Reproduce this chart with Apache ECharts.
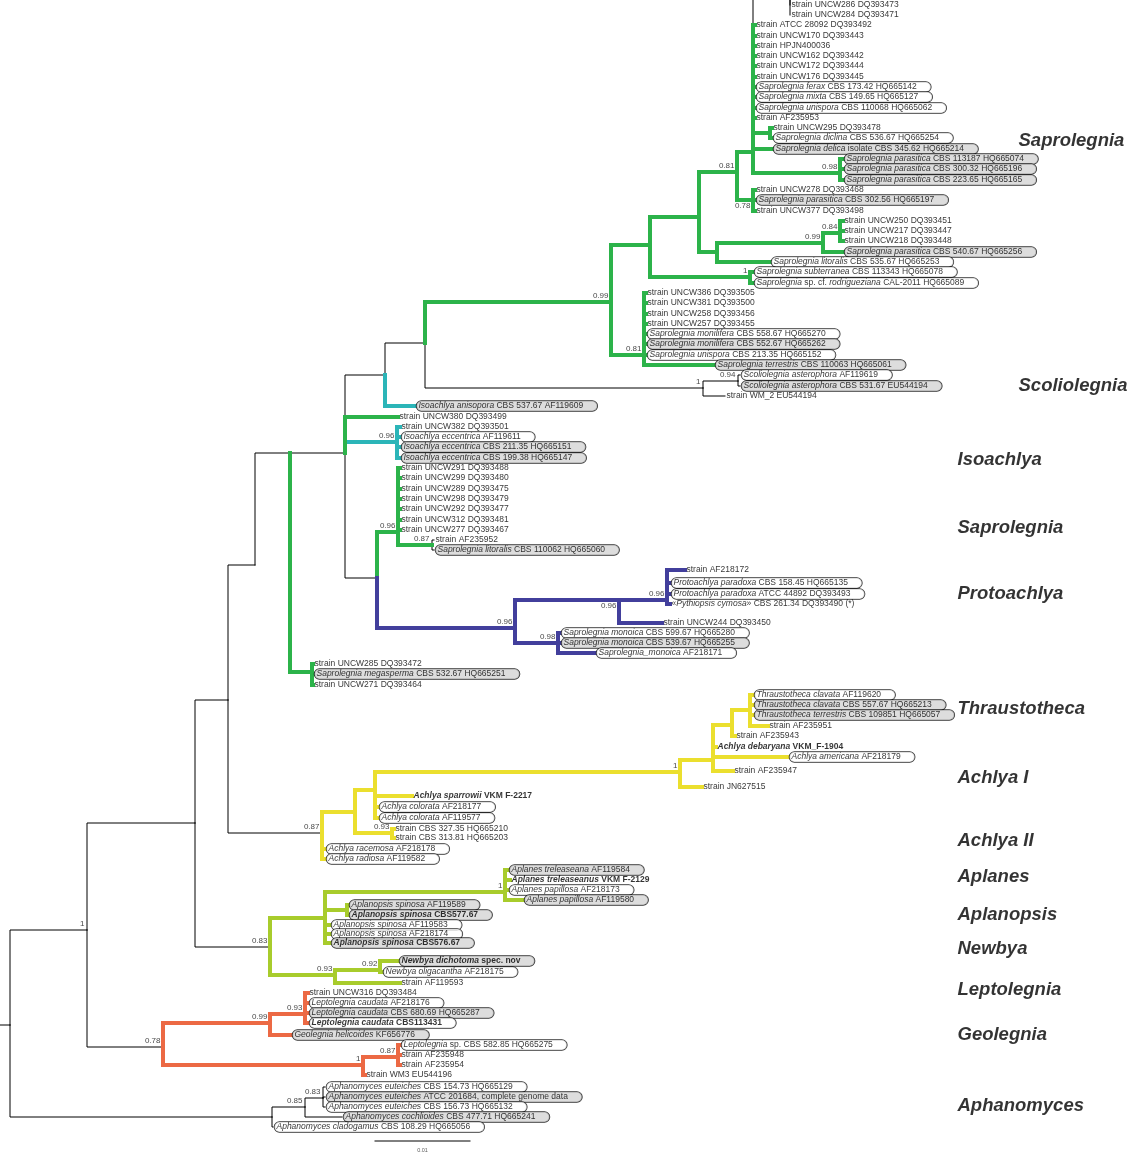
<!DOCTYPE html>
<html>
<head>
<meta charset="utf-8">
<script src="https://cdn.jsdelivr.net/npm/echarts@6/dist/echarts.min.js"></script>
<style>
  html, body { margin: 0; padding: 0; background: #fff; }
  #tree { width: 1130px; height: 1153px; }
</style>
</head>
<body>
<div id="tree"></div>
<script>
// clade colours
const cladeColors = { k: '#000000', g: '#2cb34a', c: '#2bb5b8', p: '#423f9c', y: '#ebdf2e', l: '#a8cc2c', o: '#ec6944' }

// internal nodes: id, parent, depth, row, clade
const nodes = [
  ['base', null, 0, 1025, 'k'],
  ['root', 'base', 10, 1025, 'k'],
  ['A', 'root', 87, 930, 'k'],
  ['B', 'A', 195, 823, 'k'],
  ['C', 'B', 228, 700, 'k'],
  ['D', 'C', 255, 565, 'k'],
  ['E', 'D', 290, 453, 'k'],
  ['H', 'E', 345, 453, 'k'],
  ['G', 'H', 385, 375, 'k'],
  ['F', 'G', 425, 343, 'k'],
  ['n1', 'F', 611, 302, 'g'],
  ['n2', 'n1', 650, 245, 'g'],
  ['n3', 'n2', 699, 217, 'g'],
  ['n4', 'n3', 737, 172, 'g'],
  ['n5', 'n4', 753, 152, 'g'],
  ['n6', 'n5', 790, -8, 'k'],
  ['n7', 'n5', 770, 133, 'g'],
  ['n8', 'n5', 840, 173, 'g'],
  ['n9', 'n4', 753, 200, 'g'],
  ['n10', 'n3', 717, 252, 'g'],
  ['n11', 'n10', 823, 243, 'g'],
  ['n12', 'n11', 840, 233, 'g'],
  ['n13', 'n2', 750, 277, 'g'],
  ['n14', 'n1', 644, 355, 'g'],
  ['n15', 'F', 703, 388, 'k'],
  ['n16', 'n15', 738, 381, 'k'],
  ['n17', 'H', 397, 442, 'c'],
  ['n18', 'H', 377, 578, 'k'],
  ['n19', 'n18', 398, 532, 'g'],
  ['n20', 'n19', 432, 545, 'g'],
  ['n21', 'n18', 515, 628, 'p'],
  ['n22', 'n21', 619, 600, 'p'],
  ['n23', 'n22', 667, 600, 'p'],
  ['n24', 'n21', 558, 643, 'p'],
  ['n25', 'E', 312, 672, 'g'],
  ['n26', 'C', 322, 833, 'k'],
  ['n27', 'n26', 355, 812, 'y'],
  ['n28', 'n27', 375, 790, 'y'],
  ['n29', 'n28', 680, 772, 'y'],
  ['n30', 'n29', 713, 760, 'y'],
  ['n31', 'n30', 732, 725, 'y'],
  ['n32', 'n31', 750, 710, 'y'],
  ['n33', 'n27', 392, 833, 'y'],
  ['n34', 'B', 270, 947, 'k'],
  ['n35', 'n34', 325, 918, 'l'],
  ['n36', 'n35', 505, 892, 'l'],
  ['n37', 'n35', 347, 910, 'l'],
  ['n38', 'n34', 335, 975, 'l'],
  ['n39', 'n38', 380, 970, 'l'],
  ['n40', 'A', 163, 1047, 'k'],
  ['n41', 'n40', 270, 1023, 'o'],
  ['n42', 'n41', 305, 1014, 'o'],
  ['n43', 'n40', 363, 1065, 'o'],
  ['n44', 'n43', 398, 1057, 'o'],
  ['n45', 'root', 272, 1117, 'k'],
  ['n46', 'n45', 305, 1107, 'k'],
  ['n47', 'n46', 323, 1098, 'k']
]

// leaves: parent, depth, row, clade, label style (s plain, b bold, p pill, g grey pill, bp / bg bold pill), text (~italic~)
const leaves = [
  ['n6', 790, 5, 'k', 's', 'strain UNCW286 DQ393473'],
  ['n6', 790, 15, 'k', 's', 'strain UNCW284 DQ393471'],
  ['n5', 755, 25, 'g', 's', 'strain ATCC 28092 DQ393492'],
  ['n5', 755, 36, 'g', 's', 'strain UNCW170 DQ393443'],
  ['n5', 755, 46, 'g', 's', 'strain HPJN400036'],
  ['n5', 755, 56, 'g', 's', 'strain UNCW162 DQ393442'],
  ['n5', 755, 66, 'g', 's', 'strain UNCW172 DQ393444'],
  ['n5', 755, 77, 'g', 's', 'strain UNCW176 DQ393445'],
  ['n5', 755, 87, 'g', 'p', '~Saprolegnia ferax~ CBS 173.42 HQ665142'],
  ['n5', 755, 97, 'g', 'p', '~Saprolegnia mixta~ CBS 149.65 HQ665127'],
  ['n5', 755, 108, 'g', 'p', '~Saprolegnia unispora~ CBS 110068 HQ665062'],
  ['n5', 755, 118, 'g', 's', 'strain AF235953'],
  ['n7', 772, 128, 'g', 's', 'strain UNCW295 DQ393478'],
  ['n7', 772, 138, 'g', 'p', '~Saprolegnia diclina~ CBS 536.67 HQ665254'],
  ['n5', 772, 149, 'g', 'g', '~Saprolegnia delica~ isolate CBS 345.62 HQ665214'],
  ['n8', 843, 159, 'g', 'g', '~Saprolegnia parasitica~ CBS 113187 HQ665074'],
  ['n8', 843, 169, 'g', 'g', '~Saprolegnia parasitica~ CBS 300.32 HQ665196'],
  ['n8', 843, 180, 'g', 'g', '~Saprolegnia parasitica~ CBS 223.65 HQ665165'],
  ['n9', 755, 190, 'g', 's', 'strain UNCW278 DQ393468'],
  ['n9', 755, 200, 'g', 'g', '~Saprolegnia parasitica~ CBS 302.56 HQ665197'],
  ['n9', 755, 211, 'g', 's', 'strain UNCW377 DQ393498'],
  ['n12', 843, 221, 'g', 's', 'strain UNCW250 DQ393451'],
  ['n12', 843, 231, 'g', 's', 'strain UNCW217 DQ393447'],
  ['n12', 843, 241, 'g', 's', 'strain UNCW218 DQ393448'],
  ['n11', 843, 252, 'g', 'g', '~Saprolegnia parasitica~ CBS 540.67 HQ665256'],
  ['n10', 770, 262, 'g', 'p', '~Saprolegnia litoralis~ CBS 535.67 HQ665253'],
  ['n13', 753, 272, 'g', 'p', '~Saprolegnia subterranea~ CBS 113343 HQ665078'],
  ['n13', 753, 283, 'g', 'p', '~Saprolegnia~ sp. cf. ~rodrigueziana~ CAL-2011 HQ665089'],
  ['n14', 646, 293, 'g', 's', 'strain UNCW386 DQ393505'],
  ['n14', 646, 303, 'g', 's', 'strain UNCW381 DQ393500'],
  ['n14', 646, 314, 'g', 's', 'strain UNCW258 DQ393456'],
  ['n14', 646, 324, 'g', 's', 'strain UNCW257 DQ393455'],
  ['n14', 646, 334, 'g', 'p', '~Saprolegnia monilifera~ CBS 558.67 HQ665270'],
  ['n14', 646, 344, 'g', 'g', '~Saprolegnia monilifera~ CBS 552.67 HQ665262'],
  ['n14', 646, 355, 'g', 'p', '~Saprolegnia unispora~ CBS 213.35 HQ665152'],
  ['n14', 714, 365, 'g', 'g', '~Saprolegnia terrestris~ CBS 110063 HQ665061'],
  ['n16', 740, 375, 'k', 'p', '~Scoliolegnia asterophora~ AF119619'],
  ['n16', 740, 386, 'k', 'g', '~Scoliolegnia asterophora~ CBS 531.67 EU544194'],
  ['n15', 725, 396, 'k', 's', 'strain WM_2 EU544194'],
  ['G', 415, 406, 'c', 'g', '~Isoachlya anisopora~ CBS 537.67 AF119609'],
  ['H', 398, 417, 'g', 's', 'strain UNCW380 DQ393499'],
  ['n17', 400, 427, 'c', 's', 'strain UNCW382 DQ393501'],
  ['n17', 400, 437, 'c', 'p', '~Isoachlya eccentrica~ AF119611'],
  ['n17', 400, 447, 'c', 'g', '~Isoachlya eccentrica~ CBS 211.35 HQ665151'],
  ['n17', 400, 458, 'c', 'g', '~Isoachlya eccentrica~ CBS 199.38 HQ665147'],
  ['n19', 400, 468, 'g', 's', 'strain UNCW291 DQ393488'],
  ['n19', 400, 478, 'g', 's', 'strain UNCW299 DQ393480'],
  ['n19', 400, 489, 'g', 's', 'strain UNCW289 DQ393475'],
  ['n19', 400, 499, 'g', 's', 'strain UNCW298 DQ393479'],
  ['n19', 400, 509, 'g', 's', 'strain UNCW292 DQ393477'],
  ['n19', 400, 520, 'g', 's', 'strain UNCW312 DQ393481'],
  ['n19', 400, 530, 'g', 's', 'strain UNCW277 DQ393467'],
  ['n20', 434, 540, 'k', 's', 'strain AF235952'],
  ['n20', 434, 550, 'k', 'g', '~Saprolegnia litoralis~ CBS 110062 HQ665060'],
  ['n23', 685, 570, 'p', 's', 'strain AF218172'],
  ['n23', 670, 583, 'p', 'p', '~Protoachlya paradoxa~ CBS 158.45 HQ665135'],
  ['n23', 670, 594, 'p', 'p', '~Protoachlya paradoxa~ ATCC 44892 DQ393493'],
  ['n23', 670, 604, 'p', 's', '«~Pythiopsis cymosa~» CBS 261.34 DQ393490 (*)'],
  ['n22', 662, 623, 'p', 's', 'strain UNCW244 DQ393450'],
  ['n24', 560, 633, 'p', 'p', '~Saprolegnia monoica~ CBS 599.67 HQ665280'],
  ['n24', 560, 643, 'p', 'g', '~Saprolegnia monoica~ CBS 539.67 HQ665255'],
  ['n24', 595, 653, 'p', 'p', '~Saprolegnia_monoica~ AF218171'],
  ['n25', 313, 664, 'g', 's', 'strain UNCW285 DQ393472'],
  ['n25', 313, 674, 'g', 'g', '~Saprolegnia megasperma~ CBS 532.67 HQ665251'],
  ['n25', 313, 685, 'g', 's', 'strain UNCW271 DQ393464'],
  ['n32', 753, 695, 'y', 'p', '~Thraustotheca clavata~ AF119620'],
  ['n32', 753, 705, 'y', 'g', '~Thraustotheca clavata~ CBS 557.67 HQ665213'],
  ['n32', 753, 715, 'y', 'g', '~Thraustotheca terrestris~ CBS 109851 HQ665057'],
  ['n32', 768, 726, 'y', 's', 'strain AF235951'],
  ['n31', 735, 736, 'y', 's', 'strain AF235943'],
  ['n30', 716, 747, 'y', 'b', '~Achlya debaryana~ VKM_F-1904'],
  ['n30', 788, 757, 'y', 'p', '~Achlya americana~ AF218179'],
  ['n30', 733, 771, 'y', 's', 'strain AF235947'],
  ['n29', 702, 787, 'y', 's', 'strain JN627515'],
  ['n28', 412, 796, 'y', 'b', '~Achlya sparrowii~ VKM F-2217'],
  ['n28', 378, 807, 'y', 'p', '~Achlya colorata~ AF218177'],
  ['n28', 378, 818, 'y', 'p', '~Achlya colorata~ AF119577'],
  ['n33', 394, 829, 'y', 's', 'strain CBS 327.35 HQ665210'],
  ['n33', 394, 838, 'y', 's', 'strain CBS 313.81 HQ665203'],
  ['n26', 325, 849, 'y', 'p', '~Achlya racemosa~ AF218178'],
  ['n26', 325, 859, 'y', 'p', '~Achlya radiosa~ AF119582'],
  ['n36', 508, 870, 'l', 'g', '~Aplanes treleaseana~ AF119584'],
  ['n36', 510, 880, 'l', 'b', '~Aplanes treleaseanus~ VKM F-2129'],
  ['n36', 508, 890, 'l', 'p', '~Aplanes papillosa~ AF218173'],
  ['n36', 523, 900, 'l', 'g', '~Aplanes papillosa~ AF119580'],
  ['n37', 348, 905, 'l', 'g', '~Aplanopsis spinosa~ AF119589'],
  ['n37', 348, 915, 'l', 'bg', '~Aplanopsis spinosa~ CBS577.67'],
  ['n35', 330, 925, 'l', 'p', '~Aplanopsis spinosa~ AF119583'],
  ['n35', 330, 934, 'l', 'p', '~Aplanopsis spinosa~ AF218174'],
  ['n35', 330, 943, 'l', 'bg', '~Aplanopsis spinosa~ CBS576.67'],
  ['n39', 398, 961, 'l', 'bg', '~Newbya dichotoma~ spec. nov'],
  ['n39', 382, 972, 'l', 'p', '~Newbya oligacantha~ AF218175'],
  ['n38', 400, 983, 'l', 's', 'strain AF119593'],
  ['n42', 308, 993, 'o', 's', 'strain UNCW316 DQ393484'],
  ['n42', 308, 1003, 'o', 'p', '~Leptolegnia caudata~ AF218176'],
  ['n42', 308, 1013, 'o', 'g', '~Leptolegnia caudata~ CBS 680.69 HQ665287'],
  ['n42', 308, 1023, 'o', 'bp', '~Leptolegnia caudata~ CBS113431'],
  ['n41', 291, 1035, 'o', 'g', '~Geolegnia helicoides~ KF656776'],
  ['n44', 400, 1045, 'o', 'p', '~Leptolegnia~ sp. CBS 582.85 HQ665275'],
  ['n44', 400, 1055, 'o', 's', 'strain AF235948'],
  ['n44', 400, 1065, 'o', 's', 'strain AF235954'],
  ['n43', 365, 1075, 'o', 's', 'strain WM3 EU544196'],
  ['n47', 325, 1087, 'k', 'p', '~Aphanomyces euteiches~ CBS 154.73 HQ665129'],
  ['n47', 325, 1097, 'k', 'g', '~Aphanomyces euteiches~ ATCC 201684, complete genome data'],
  ['n47', 325, 1107, 'k', 'p', '~Aphanomyces euteiches~ CBS 156.73 HQ665132'],
  ['n46', 342, 1117, 'k', 'g', '~Aphanomyces cochlioides~ CBS 477.71 HQ665241'],
  ['n45', 273, 1127, 'k', 'p', '~Aphanomyces cladogamus~ CBS 108.29 HQ665056']
]

// posterior support at nodes
const support = [
  ['A', '1'], ['n1', '0.99'], ['n4', '0.81'], ['n8', '0.98'], ['n9', '0.78'], ['n11', '0.99'],
  ['n12', '0.84'], ['n13', '1'], ['n14', '0.81'], ['n15', '1'], ['n16', '0.94'], ['n17', '0.96'],
  ['n19', '0.96'], ['n20', '0.87'], ['n21', '0.96'], ['n22', '0.96'], ['n23', '0.96'], ['n24', '0.98'],
  ['n26', '0.87'], ['n29', '1'], ['n33', '0.93'], ['n34', '0.83'], ['n36', '1'], ['n38', '0.93'],
  ['n39', '0.92'], ['n40', '0.78'], ['n41', '0.99'], ['n42', '0.93'], ['n43', '1'], ['n44', '0.87'],
  ['n46', '0.85'], ['n47', '0.83']
]
// support values printed under the branch instead of above it
const supportBelow = ['n9', 'n22']

// genus names: text, row, column
const cladeNames = [
  ['Saprolegnia', 141, 1018], ['Scoliolegnia', 386, 1018], ['Isoachlya', 460, 957],
  ['Saprolegnia', 528, 957], ['Protoachlya', 594, 957], ['Thraustotheca', 709, 957],
  ['Achlya I', 778, 957], ['Achlya II', 841, 957], ['Aplanes', 877, 957],
  ['Aplanopsis', 915, 957], ['Newbya', 949, 957], ['Leptolegnia', 990, 957],
  ['Geolegnia', 1035, 957], ['Aphanomyces', 1106, 957]
]

// scale bar: start depth, end depth, row, label
const scaleBar = [375, 470, 1141, '0.01']

const FONT = 'Liberation Sans, Arial, sans-serif'

const pos = {}
nodes.forEach((n) => { pos[n[0]] = [n[2], n[3]] })

const edges = []
const addEdge = (parent, x, y, clade) => {
  if (!parent) return
  const p = pos[parent]
  edges.push({
    coords: [[p[0], p[1]], [p[0], y], [x, y]],
    lineStyle: { color: cladeColors[clade], width: clade === 'k' ? 1 : 4 },
    z: clade === 'k' ? 1 : 2,
  })
}
nodes.forEach((n) => addEdge(n[1], n[2], n[3], n[4]))
leaves.forEach((l) => addEdge(l[0], l[1], l[2], l[3]))
edges.sort((a, b) => a.z - b.z)
edges.push({
  coords: [[scaleBar[0], scaleBar[2]], [scaleBar[1], scaleBar[2]]],
  lineStyle: { color: '#000', width: 1 },
})

const toRich = (text, bold) => {
  const parts = text.split('~')
  let out = ''
  parts.forEach((t, i) => {
    if (!t) return
    const key = (bold ? 'b' : '') + (i % 2 === 1 ? 'i' : 'n')
    out += `{${key}|${t}}`
  })
  return out
}

const leafData = leaves.map((l) => {
  const style = l[4]
  const bold = style.indexOf('b') === 0
  const pill = style.indexOf('p') >= 0 || style.indexOf('g') >= 0
  const label = {}
  if (pill) {
    label.backgroundColor = style.indexOf('g') >= 0 ? '#d4d4d4' : '#ffffff'
    label.borderColor = '#000'
    label.borderWidth = 0.8
    label.borderRadius = 5
    label.padding = [0, 14, 0, 2]
  }
  return { value: [l[1], l[2]], rt: toRich(l[5], bold), label }
})

const supportData = support.map((s) => ({
  value: pos[s[0]],
  txt: s[1],
  label: { offset: [0, supportBelow.includes(s[0]) ? 6 : -6] },
}))
const cladeData = cladeNames.map((c) => ({ value: [c[2], c[1]], txt: c[0] }))

const richBase = { fontSize: 8.5, fontFamily: FONT, color: '#000', lineHeight: 10 }

const chart = echarts.init(document.getElementById('tree'))
chart.setOption({
  animation: false,
  backgroundColor: '#fff',
  grid: { left: 0, right: 0, top: 0, bottom: 0 },
  xAxis: { type: 'value', min: 0, max: 1130, show: false },
  yAxis: { type: 'value', min: 0, max: 1153, inverse: true, show: false },
  series: [
    {
      type: 'lines',
      coordinateSystem: 'cartesian2d',
      polyline: true,
      silent: true,
      lineStyle: { cap: 'square', join: 'miter', opacity: 1 },
      data: edges,
    },
    {
      type: 'scatter',
      symbolSize: 1,
      itemStyle: { color: 'rgba(0,0,0,0)' },
      silent: true,
      data: leafData,
      label: {
        show: true,
        position: 'right',
        distance: 1,
        formatter: (p) => p.data.rt,
        rich: {
          n: { ...richBase },
          i: { ...richBase, fontStyle: 'italic' },
          bn: { ...richBase, fontWeight: 'bold' },
          bi: { ...richBase, fontWeight: 'bold', fontStyle: 'italic' },
        },
      },
    },
    {
      type: 'scatter',
      symbolSize: 1,
      itemStyle: { color: 'rgba(0,0,0,0)' },
      silent: true,
      data: supportData,
      label: {
        show: true,
        position: 'left',
        distance: 2,
        fontSize: 8,
        fontFamily: FONT,
        color: '#111',
        formatter: (p) => p.data.txt,
      },
    },
    {
      type: 'scatter',
      symbolSize: 1,
      itemStyle: { color: 'rgba(0,0,0,0)' },
      silent: true,
      data: cladeData,
      label: {
        show: true,
        position: 'right',
        distance: 0,
        fontSize: 18.5,
        fontWeight: 'bold',
        fontStyle: 'italic',
        fontFamily: FONT,
        color: '#000',
        formatter: (p) => p.data.txt,
      },
    },
    {
      type: 'scatter',
      symbolSize: 1,
      itemStyle: { color: 'rgba(0,0,0,0)' },
      silent: true,
      data: [{ value: [(scaleBar[0] + scaleBar[1]) / 2, scaleBar[2] + 9], txt: scaleBar[3] }],
      label: {
        show: true,
        position: 'inside',
        fontSize: 5.5,
        fontFamily: FONT,
        color: '#333',
        formatter: (p) => p.data.txt,
      },
    },
  ],
})
</script>
</body>
</html>
